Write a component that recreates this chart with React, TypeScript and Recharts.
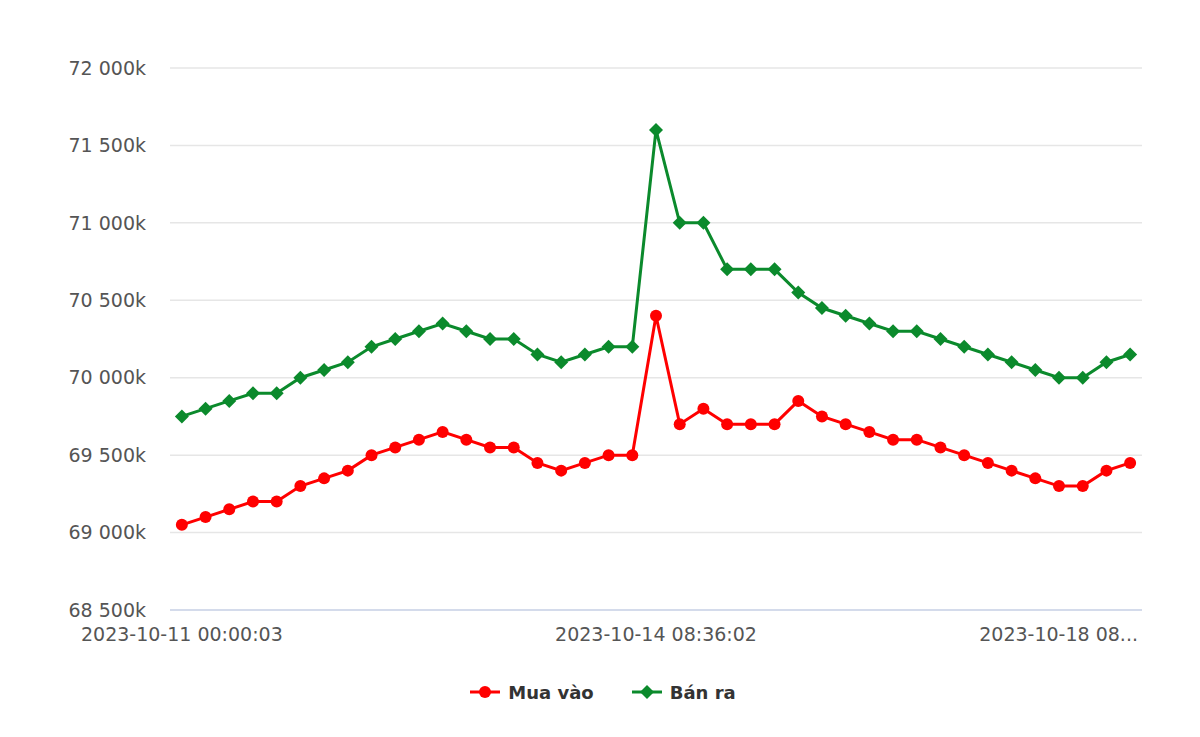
import React from 'react';
import { LineChart, Line, XAxis, YAxis, CartesianGrid, Legend } from 'recharts';

// gia mua vao / ban ra (nghin dong)
const muaVao = [
  69050, 69100, 69150, 69200, 69200, 69300, 69350, 69400, 69500, 69550,
  69600, 69650, 69600, 69550, 69550, 69450, 69400, 69450, 69500, 69500,
  70400, 69700, 69800, 69700, 69700, 69700, 69850, 69750, 69700, 69650,
  69600, 69600, 69550, 69500, 69450, 69400, 69350, 69300, 69300, 69400,
  69450,
];
const banRa = [
  69750, 69800, 69850, 69900, 69900, 70000, 70050, 70100, 70200, 70250,
  70300, 70350, 70300, 70250, 70250, 70150, 70100, 70150, 70200, 70200,
  71600, 71000, 71000, 70700, 70700, 70700, 70550, 70450, 70400, 70350,
  70300, 70300, 70250, 70200, 70150, 70100, 70050, 70000, 70000, 70100,
  70150,
];
const tickIndexes = [0, 20, 40];
const tickLabels = ['2023-10-11 00:00:03', '2023-10-14 08:36:02', '2023-10-18 08...'];
const yTicks = [68500, 69000, 69500, 70000, 70500, 71000, 71500, 72000];

const RED = '#ff0000';
const GREEN = '#0b8a2c';
const FONT = '"DejaVu Sans", Verdana, sans-serif';

const data = muaVao.map((v, i) => ({ idx: i, mua: v, ban: banRa[i] }));

const fmtY = (v: number) => {
  const s = String(v);
  return s.slice(0, s.length - 3) + ' ' + s.slice(-3) + 'k';
};

const XTick = (props: any) => {
  const { x, y, payload } = props;
  const pos = tickIndexes.indexOf(payload.value);
  const last = pos === tickIndexes.length - 1;
  return (
    <text
      x={last ? 1138 : x}
      y={y}
      dy="0.71em"
      textAnchor={last ? 'end' : 'middle'}
      fontSize={19}
      fill="#555"
      fontFamily={FONT}
    >
      {tickLabels[pos]}
    </text>
  );
};

const Diamond = (props: any) => {
  const { cx, cy } = props;
  if (cx == null || cy == null) return null;
  const r = 7;
  return (
    <polygon
      points={`${cx},${cy - r} ${cx + r},${cy} ${cx},${cy + r} ${cx - r},${cy}`}
      fill={GREEN}
    />
  );
};

const LegendContent = () => {
  const items = [
    { name: 'Mua vào', color: RED, marker: 'circle' },
    { name: 'Bán ra', color: GREEN, marker: 'diamond' },
  ];
  return (
    <div style={{ display: 'flex', justifyContent: 'center', height: 30, alignItems: 'center', paddingLeft: 6 }}>
      {items.map((it, i) => (
        <div key={it.name} style={{ display: 'flex', alignItems: 'center', marginLeft: i ? 38 : 0 }}>
          <svg width={30} height={16}>
            <line x1={0} y1={8} x2={30} y2={8} stroke={it.color} strokeWidth={3} />
            {it.marker === 'circle' ? (
              <circle cx={15} cy={8} r={6} fill={it.color} />
            ) : (
              <polygon points="15,1 22,8 15,15 8,8" fill={it.color} />
            )}
          </svg>
          <span style={{ marginLeft: 8, fontSize: 18, fontWeight: 'bold', color: '#333', fontFamily: FONT }}>
            {it.name}
          </span>
        </div>
      ))}
    </div>
  );
};

export default function App() {
  return (
    <div style={{ position: 'absolute', left: 0, top: 0, width: 1200, height: 737, background: '#fff', fontFamily: FONT }}>
      <LineChart width={1200} height={737} data={data} margin={{ top: 68, right: 58, left: 0, bottom: 30 }}>
        <CartesianGrid horizontal vertical={false} stroke="#e6e6e6" strokeWidth={1.5} />
        <XAxis
          dataKey="idx"
          type="number"
          domain={[-0.5, 40.5]}
          ticks={tickIndexes}
          tick={<XTick />}
          tickLine={false}
          axisLine={{ stroke: '#ccd6eb', strokeWidth: 1.5 }}
          tickSize={0}
          tickMargin={18}
          height={67}
          interval={0}
        />
        <YAxis
          domain={[68500, 72000]}
          ticks={yTicks}
          tickFormatter={fmtY}
          tick={{ fontSize: 19, fill: '#555', fontFamily: FONT }}
          axisLine={false}
          tickLine={false}
          tickSize={0}
          tickMargin={24}
          width={170}
          interval={0}
        />
        <Legend verticalAlign="bottom" content={<LegendContent />} wrapperStyle={{ left: 0, width: 1200 }} />
        <Line
          dataKey="mua"
          name="Mua vào"
          stroke={RED}
          strokeWidth={3}
          dot={{ r: 6, fill: RED, stroke: 'none' }}
          activeDot={false}
          isAnimationActive={false}
        />
        <Line
          dataKey="ban"
          name="Bán ra"
          stroke={GREEN}
          strokeWidth={3}
          dot={<Diamond />}
          activeDot={false}
          isAnimationActive={false}
        />
      </LineChart>
    </div>
  );
}
